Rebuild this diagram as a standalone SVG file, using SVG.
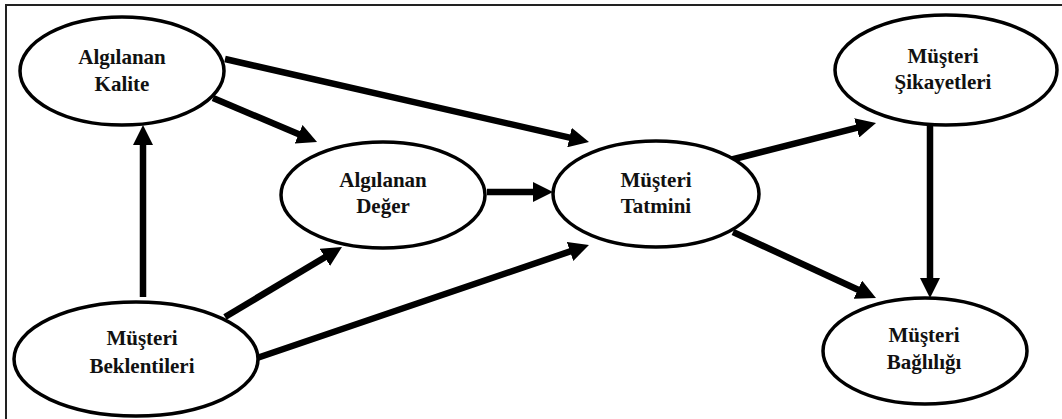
<svg xmlns="http://www.w3.org/2000/svg" width="1062" height="419" viewBox="0 0 1062 419">
  <style>
    .frame { stroke: #222; stroke-width: 2; fill: none; }
    .node ellipse { fill: #fff; stroke: #000; stroke-width: 3.5; }
    .node text { font-family: "Liberation Serif", "Times New Roman", serif; font-weight: bold; font-size: 21px; fill: #111; text-anchor: middle; }
    .edge { stroke: #000; stroke-width: 6.5; fill: none; marker-end: url(#head); }
  </style>
  <defs>
    <marker id="head" markerUnits="userSpaceOnUse" markerWidth="20" markerHeight="20" refX="8" refY="10" orient="auto">
      <path d="M0,0 L20,10 L0,20 z" fill="#000"/>
    </marker>
  </defs>

  <rect width="1062" height="419" fill="#fff"/>
  <!-- open frame: top and left rules -->
  <path class="frame" d="M6,419 V5 H1062"/>

  <g id="connectors">
    <line class="edge" x1="143" y1="297" x2="143" y2="137"/>
    <line class="edge" x1="213" y1="98" x2="306" y2="137.3"/>
    <line class="edge" x1="225" y1="59" x2="577.3" y2="139.3"/>
    <line class="edge" x1="487" y1="192" x2="541" y2="192"/>
    <line class="edge" x1="225" y1="317" x2="331.7" y2="253.2"/>
    <line class="edge" x1="257" y1="358" x2="577.6" y2="248.9"/>
    <line class="edge" x1="730" y1="160" x2="864.4" y2="125.9"/>
    <line class="edge" x1="733" y1="232" x2="865.1" y2="293"/>
    <line class="edge" x1="930" y1="125" x2="930" y2="286"/>
  </g>

  <g id="algilanan-kalite" class="node">
    <ellipse cx="122" cy="71" rx="102" ry="54"/>
    <text x="122" y="64">Algılanan</text>
    <text x="122" y="91">Kalite</text>
  </g>

  <g id="algilanan-deger" class="node">
    <ellipse cx="383" cy="195" rx="102" ry="53"/>
    <text x="383" y="187">Algılanan</text>
    <text x="383" y="213">Değer</text>
  </g>

  <g id="musteri-tatmini" class="node">
    <ellipse cx="656" cy="194" rx="103" ry="53"/>
    <text x="656" y="187">Müşteri</text>
    <text x="656" y="213">Tatmini</text>
  </g>

  <g id="musteri-sikayetleri" class="node">
    <ellipse cx="946" cy="70" rx="111" ry="55"/>
    <text x="943" y="63">Müşteri</text>
    <text x="943" y="89">Şikayetleri</text>
  </g>

  <g id="musteri-bagliligi" class="node">
    <ellipse cx="925" cy="351" rx="102" ry="53"/>
    <text x="924" y="342">Müşteri</text>
    <text x="924" y="369">Bağlılığı</text>
  </g>

  <g id="musteri-beklentileri" class="node">
    <ellipse cx="136" cy="359" rx="122" ry="57"/>
    <text x="142" y="345">Müşteri</text>
    <text x="142" y="373">Beklentileri</text>
  </g>
</svg>
